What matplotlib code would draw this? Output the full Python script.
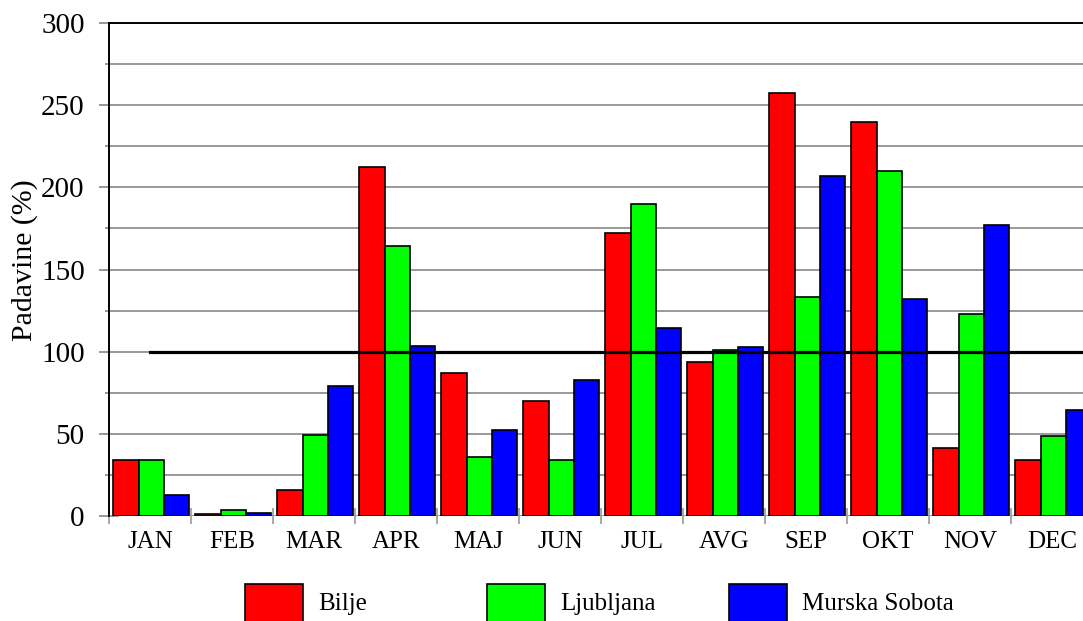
import matplotlib
matplotlib.use("Agg")
import matplotlib.pyplot as plt
import numpy as np
from matplotlib.patches import Rectangle
from matplotlib.ticker import MultipleLocator

months = ["JAN", "FEB", "MAR", "APR", "MAJ", "JUN", "JUL", "AVG", "SEP", "OKT", "NOV", "DEC"]
bilje = [34, 1, 16, 212.5, 87, 70, 172.5, 94, 257.5, 240, 41.5, 34]
ljubljana = [34, 3.5, 49, 164.5, 36, 34, 190, 101, 133, 210, 123, 48.5]
murska_sobota = [13, 2, 79, 103.5, 52.5, 83, 114.5, 103, 207, 132, 177, 64.5]
series_names = ["Bilje", "Ljubljana", "Murska Sobota"]
series_colors = ["#ff0000", "#00ff00", "#0000ff"]
reference = 100

plt.rcParams["font.family"] = ["Liberation Serif", "DejaVu Serif"]

fig = plt.figure(figsize=(10.83, 6.21), dpi=100)
W, H = 1083, 621
# axes: left 109 px, right 1093 px (past the figure edge, as in the original), top 23, bottom 516
ax = fig.add_axes([109 / W, (H - 516) / H, 984 / W, 493 / H])

x = np.arange(len(months))
width = 0.309
for i, (vals, col) in enumerate(zip([bilje, ljubljana, murska_sobota], series_colors)):
    ax.bar(x + 0.015 + (i - 1) * width, vals, width, color=col,
           edgecolor="black", linewidth=1.2, zorder=3)

# 100 % reference line
ax.plot([0, len(months)], [reference, reference], color="black", lw=2.3, zorder=4)

ax.set_xlim(-0.5, len(months) - 0.5)
ax.set_ylim(0, 300)

ax.yaxis.set_major_locator(MultipleLocator(50))
ax.yaxis.set_minor_locator(MultipleLocator(25))
ax.grid(axis="y", which="both", color="#999999", lw=1.4, zorder=0)
ax.set_axisbelow(True)

ax.set_xticks(x)
ax.set_xticklabels(months)
ax.set_xticks(np.arange(len(months) + 1) - 0.5, minor=True)
ax.tick_params(axis="x", which="major", length=0, pad=11, labelsize=18)
ax.tick_params(axis="x", which="minor", direction="inout", length=11, width=1.2,
               color="#999999")
ax.tick_params(axis="y", which="major", direction="inout", length=14, width=1.4,
               color="#999999", pad=10.5, labelsize=21)
ax.tick_params(axis="y", which="minor", direction="inout", length=6, width=1.4,
               color="#999999")

for side in ["right", "bottom"]:
    ax.spines[side].set_visible(False)
ax.spines["left"].set_linewidth(1.4)
ax.spines["top"].set_linewidth(1.4)

ax.set_ylabel("Padavine (%)", fontsize=21.5)
ax.yaxis.set_label_coords(-0.072, 0.52)

# legend in fixed columns under the chart
legend_x = [245, 487, 729]
for lx, name, col in zip(legend_x, series_names, series_colors):
    fig.patches.append(Rectangle((lx / W, (H - 625) / H), 58 / W, 41 / H,
                                 transform=fig.transFigure, facecolor=col,
                                 edgecolor="black", lw=1.2))
    fig.text((lx + 73) / W, (H - 604) / H, name, fontsize=18, va="center", ha="left")

fig.savefig("out.png", dpi=100)
